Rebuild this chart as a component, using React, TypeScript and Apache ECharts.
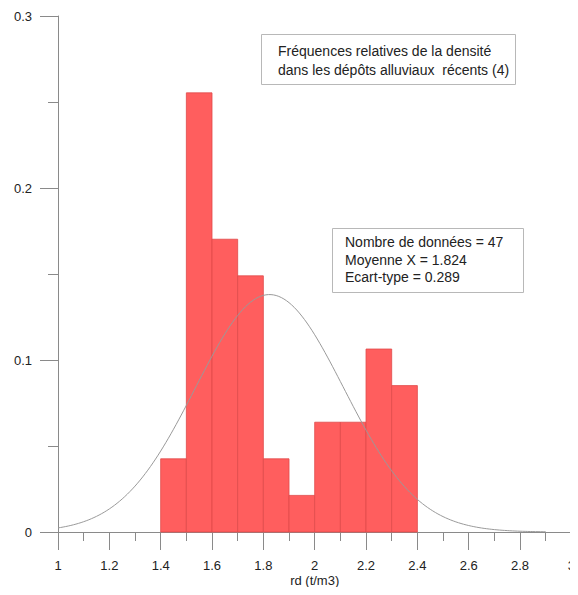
import React, { useEffect, useRef } from "react";
import * as echarts from "echarts";

// Histogram bins (lower edge, upper edge) and relative frequencies (n = 47)
const BIN_LOW = [1.4, 1.5, 1.6, 1.7, 1.8, 1.9, 2.0, 2.1, 2.2, 2.3];
const BIN_HIGH = [1.5, 1.6, 1.7, 1.8, 1.9, 2.0, 2.1, 2.2, 2.3, 2.4];
const COUNTS = [2, 12, 8, 7, 2, 1, 3, 3, 5, 4];
const N = 47;
const FREQ = COUNTS.map((c) => c / N);

// Summary statistics shown in the box
const MEAN = 1.824;
const STD = 0.289;
const BIN_WIDTH = 0.1;
const CURVE_FROM = 1.0;
const CURVE_TO = 2.9;

const TITLE_LINES = [
  "Fréquences relatives de la densité",
  "dans les dépôts alluviaux  récents (4)",
];
const STAT_LINES = [
  `Nombre de données = ${N}`,
  `Moyenne X = ${MEAN.toFixed(3)}`,
  `Ecart-type = ${STD.toFixed(3)}`,
];

const FONT = '"Liberation Sans", Arial, Helvetica, sans-serif';

// Normal density with the stated mean / std, scaled to bin width
function fittedCurve(): number[][] {
  const pts: number[][] = [];
  const steps = Math.round((CURVE_TO - CURVE_FROM) / 0.01);
  for (let i = 0; i <= steps; i++) {
    const x = CURVE_FROM + i * 0.01;
    const z = (x - MEAN) / STD;
    const y = (BIN_WIDTH / (STD * Math.sqrt(2 * Math.PI))) * Math.exp(-0.5 * z * z);
    pts.push([x, y]);
  }
  return pts;
}

export default function App() {
  const ref = useRef<HTMLDivElement>(null);

  useEffect(() => {
    if (!ref.current) return;
    const chart = echarts.init(ref.current, null, { renderer: "svg" });
    const histData = BIN_LOW.map((lo, i) => [lo, BIN_HIGH[i], FREQ[i]]);

    chart.setOption({
      animation: false,
      backgroundColor: "#ffffff",
      grid: { left: 58, right: 5, top: 16, bottom: 63 },
      xAxis: {
        type: "value",
        min: 1,
        max: 3,
        interval: 0.2,
        name: "rd (t/m3)",
        nameLocation: "middle",
        nameGap: 42,
        nameMoveOverlap: false,
        nameTextStyle: { color: "#222", fontSize: 13, fontFamily: FONT },
        axisLine: { show: true, onZero: false, lineStyle: { color: "#8a8a8a", width: 1 } },
        axisTick: { show: true, length: 18, lineStyle: { color: "#8a8a8a" } },
        minorTick: { show: true, splitNumber: 2, length: 9, lineStyle: { color: "#8a8a8a" } },
        axisLabel: { color: "#222", fontSize: 13, fontFamily: FONT, margin: 27, hideOverlap: false },
        splitLine: { show: false },
      },
      yAxis: {
        type: "value",
        min: 0,
        max: 0.3,
        interval: 0.1,
        axisLine: { show: true, lineStyle: { color: "#8a8a8a", width: 1 } },
        axisTick: { show: true, length: 18, lineStyle: { color: "#8a8a8a" } },
        minorTick: { show: true, splitNumber: 2, length: 10, lineStyle: { color: "#8a8a8a" } },
        axisLabel: { color: "#222", fontSize: 13, fontFamily: FONT, margin: 26 },
        splitLine: { show: false },
      },
      series: [
        {
          type: "custom",
          data: histData,
          encode: { x: [0, 1], y: 2 },
          renderItem: (params: any, api: any) => {
            const p0 = api.coord([api.value(0), api.value(2)]);
            const p1 = api.coord([api.value(1), 0]);
            return {
              type: "rect",
              shape: { x: p0[0], y: p0[1], width: p1[0] - p0[0], height: p1[1] - p0[1] },
              style: { fill: "#ff5e5e", stroke: "#e04a4a", lineWidth: 0.8 },
            };
          },
          z: 2,
        },
        {
          type: "line",
          data: fittedCurve(),
          showSymbol: false,
          smooth: false,
          lineStyle: { color: "#9a9a9a", width: 1 },
          z: 3,
        },
      ],
      graphic: [
        {
          type: "rect",
          shape: { x: 261.5, y: 34.5, width: 254, height: 50 },
          style: { fill: "#fff", stroke: "#b8b8b8", lineWidth: 1 },
        },
        ...TITLE_LINES.map((t, i) => ({
          type: "text",
          x: 278,
          y: 51 + i * 19,
          style: {
            text: t,
            fill: "#222",
            fontSize: 14,
            fontFamily: FONT,
            verticalAlign: "middle",
          },
        })),
        {
          type: "rect",
          shape: { x: 332.5, y: 228.5, width: 191, height: 64 },
          style: { fill: "#fff", stroke: "#b8b8b8", lineWidth: 1 },
        },
        ...STAT_LINES.map((t, i) => ({
          type: "text",
          x: 345,
          y: 242 + i * 17.5,
          style: {
            text: t,
            fill: "#222",
            fontSize: 14,
            fontFamily: FONT,
            verticalAlign: "middle",
          },
        })),
      ],
    });

    return () => chart.dispose();
  }, []);

  return <div ref={ref} style={{ width: 578, height: 595, margin: -8 }} />;
}
